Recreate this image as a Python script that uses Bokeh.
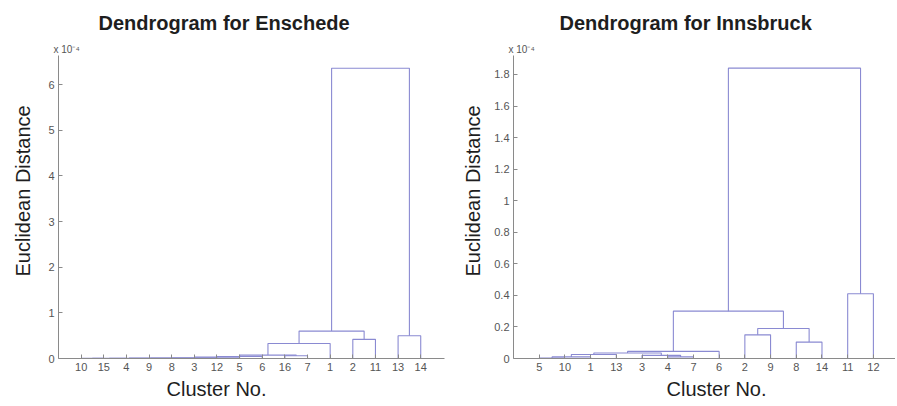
from bokeh.plotting import figure
from bokeh.layouts import row
from bokeh.models import FixedTicker, PrintfTickFormatter, Range1d, Title
from bokeh.embed import file_html
from bokeh.resources import INLINE

# ---------------- data (distances in units of 1e-4) ----------------
ens_title = "Dendrogram for Enschede"
ens_leaves = ["10", "15", "4", "9", "8", "3", "12", "5", "6", "16", "7", "1", "2", "11", "13", "14"]
# each link: (child_a, child_b, height); merged clusters are named c0, c1, ...
ens_links = [
    ("10", "15", 0.003),
    ("c0", "4", 0.005),
    ("c1", "9", 0.007),
    ("c2", "8", 0.009),
    ("c3", "3", 0.012),
    ("c4", "12", 0.018),
    ("c5", "5", 0.030),
    ("c6", "6", 0.045),
    ("16", "7", 0.060),
    ("c7", "c8", 0.075),
    ("c9", "1", 0.33),
    ("2", "11", 0.42),
    ("c10", "c11", 0.60),
    ("13", "14", 0.50),
    ("c12", "c13", 6.36),
]
ens_yticks = [0, 1, 2, 3, 4, 5, 6]

inn_title = "Dendrogram for Innsbruck"
inn_leaves = ["5", "10", "1", "13", "3", "4", "7", "6", "2", "9", "8", "14", "11", "12"]
inn_links = [
    ("5", "10", 0.003),
    ("c0", "1", 0.010),
    ("c1", "13", 0.025),
    ("4", "7", 0.010),
    ("3", "c3", 0.020),
    ("c2", "c4", 0.035),
    ("c5", "6", 0.045),
    ("2", "9", 0.15),
    ("8", "14", 0.104),
    ("c7", "c8", 0.19),
    ("c6", "c9", 0.30),
    ("11", "12", 0.41),
    ("c10", "c11", 1.84),
]
inn_yticks = [0, 0.2, 0.4, 0.6, 0.8, 1, 1.2, 1.4, 1.6, 1.8]

x_label = "Cluster No."
y_label = "Euclidean Distance"
exp_label = "x 10\u207b\u2074"

LINE = "#8a8ad2"
AXIS = "#8a8a8a"
TICKTXT = "#555555"
TXT = "#1e1e1e"
FONT = "Liberation Sans"


def build(leaves, links):
    pos = {l: i + 1 for i, l in enumerate(leaves)}
    hgt = {l: 0.0 for l in leaves}
    xs, ys = [], []
    for i, (a, b, h) in enumerate(links):
        xa, xb = pos[a], pos[b]
        xs.append([xa, xa, xb, xb])
        ys.append([hgt[a], h, h, hgt[b]])
        pos["c%d" % i] = (xa + xb) / 2
        hgt["c%d" % i] = h
    return xs, ys


def make(title, leaves, links, yticks, xend, yend, width, mbl, mbr,
         title_off, xlab_off, ylab_off, ylab_standoff):
    p = figure(width=width, height=404, x_range=Range1d(0, xend), y_range=Range1d(0, yend),
               output_backend="svg", toolbar_location=None,
               min_border_left=mbl, min_border_right=mbr, min_border_top=55, min_border_bottom=46)
    # main title (outermost)
    p.title.text = title
    p.title.text_font = FONT
    p.title.text_font_size = "20px"
    p.title.text_font_style = "bold"
    p.title.text_color = TXT
    p.title.align = "left"
    p.title.offset = title_off
    p.title.standoff = 16
    # exponent marker, just above the frame
    p.add_layout(Title(text=exp_label, text_font=FONT, text_font_size="10px",
                       text_font_style="normal", text_color=TICKTXT, align="left",
                       offset=-5, standoff=1), "above")
    # axis titles
    p.add_layout(Title(text=x_label, text_font=FONT, text_font_size="20px",
                       text_font_style="normal", text_color=TXT, align="left",
                       offset=xlab_off, standoff=4), "below")
    p.add_layout(Title(text=y_label, text_font=FONT, text_font_size="20px",
                       text_font_style="normal", text_color=TXT, align="left",
                       vertical_align="top",
                       offset=ylab_off, standoff=ylab_standoff), "left")

    p.outline_line_color = None
    p.xgrid.visible = False
    p.ygrid.visible = False
    p.background_fill_color = "white"
    p.border_fill_color = "white"

    xs, ys = build(leaves, links)
    p.multi_line(xs, ys, line_color=LINE, line_width=1.1)

    xa = p.xaxis[0]
    xa.ticker = FixedTicker(ticks=list(range(1, len(leaves) + 1)))
    xa.major_label_overrides = {i + 1: l for i, l in enumerate(leaves)}
    ya = p.yaxis[0]
    ya.ticker = FixedTicker(ticks=yticks)
    ya.formatter = PrintfTickFormatter(format="%g")
    for ax in (xa, ya):
        ax.axis_line_color = AXIS
        ax.major_tick_line_color = AXIS
        ax.major_tick_in = 4
        ax.major_tick_out = 0
        ax.minor_tick_line_color = None
        ax.major_label_text_font = FONT
        ax.major_label_text_font_size = "11px"
        ax.major_label_text_color = TICKTXT
        ax.major_label_standoff = 4
    return p


p1 = make(ens_title, ens_leaves, ens_links, ens_yticks, 17.05, 6.64, 447, 58, 3,
          40, 108, 82, 20)
p2 = make(inn_title, inn_leaves, inn_links, inn_yticks, 14.86, 1.92, 448, 66, 0,
          46, 153, 82, 11)

layout = row(p1, p2, spacing=0)
open("out.html", "w").write(file_html(layout, INLINE))
